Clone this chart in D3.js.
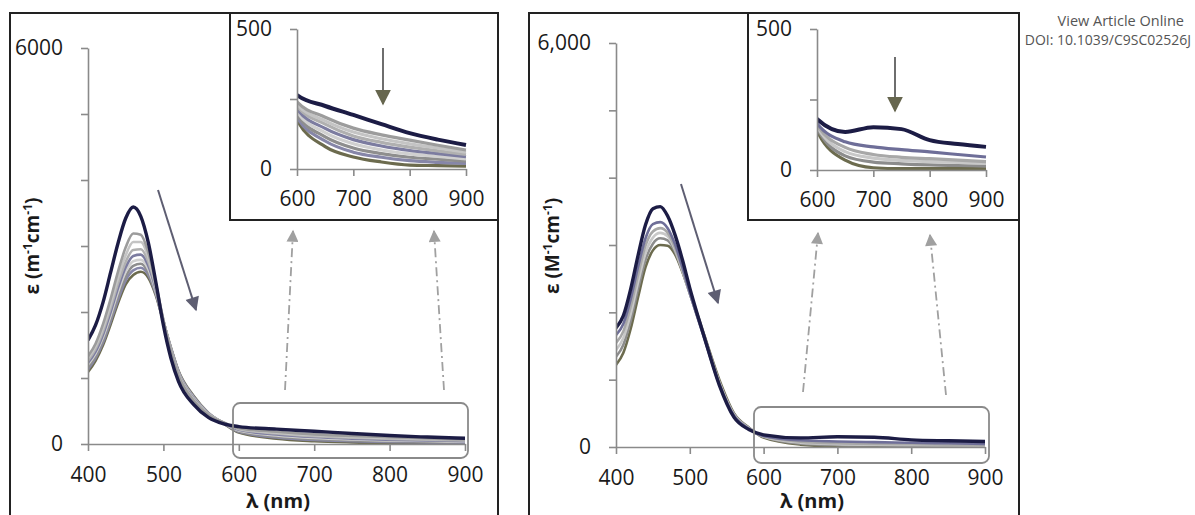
<!DOCTYPE html>
<html>
<head>
<meta charset="utf-8">
<script src="https://cdn.jsdelivr.net/npm/d3@7"></script>
<style>
  html, body { margin: 0; padding: 0; background: #fff; }
  svg { display: block; }
  text { font-family: "Open Sans", "Liberation Sans", sans-serif; fill: #1a1a1a; }
</style>
</head>
<body>
<svg id="chart" width="1195" height="515"></svg>
<script>
// ---------------- DATA ----------------
const wavelengths = [400,410,420,430,440,450,460,470,480,490,500,510,520,540,560,580,600,650,700,750,800,850,900];

// Left panel spectra (ε, m-1 cm-1)
const left1 = [1575,1800,2150,2600,3050,3420,3590,3450,3050,2450,1800,1300,950,600,400,305,264,225,193,160,128,105,86];
const left2 = [1330,1520,1820,2200,2620,2980,3190,3170,2900,2430,1880,1400,1040,660,440,325,240,185,146,122,103,85,68];
const left3 = [1300,1480,1760,2120,2520,2860,3060,3060,2830,2400,1880,1410,1050,670,445,325,232,172,132,108,90,75,60];
const left4 = [1260,1440,1710,2060,2440,2760,2940,2950,2760,2370,1870,1420,1060,680,450,322,225,160,118,95,78,65,52];
const left5 = [1230,1400,1660,2000,2370,2680,2850,2870,2700,2340,1870,1430,1070,690,455,320,215,145,105,82,66,55,44];
const left6 = [1200,1370,1620,1950,2310,2610,2770,2790,2650,2310,1860,1440,1080,700,460,318,205,130,90,68,54,45,36];
const left7 = [1160,1330,1580,1900,2250,2540,2700,2730,2600,2290,1860,1450,1090,710,462,315,195,115,75,55,42,35,28];
const left8 = [1130,1300,1540,1860,2190,2480,2630,2670,2560,2270,1850,1450,1100,720,465,312,185,100,60,42,30,24,20];
const left9 = [1090,1260,1500,1810,2140,2420,2560,2610,2520,2250,1850,1460,1110,730,468,310,175,80,43,25,14,12,10];
const leftSeries = [left9, left8, left7, left6, left5, left4, left3, left2, left1];
const leftColors = ["#6c6b4e","#8686a8","#8e8e8e","#d0d0d0","#7c7ca0","#b0b0b0","#c4c4c4","#9c9c9c","#1c1c45"];

// Right panel spectra (ε, M-1 cm-1)
const right1 = [1770,1950,2350,2850,3300,3540,3570,3430,3150,2780,2360,1980,1620,920,440,260,181,135,152,145,106,92,82];
const right2 = [1660,1830,2200,2680,3100,3310,3340,3250,3010,2670,2290,1940,1600,930,460,270,165,100,82,72,64,55,46];
const right3 = [1545,1720,2090,2560,2990,3200,3250,3180,2960,2640,2280,1940,1610,945,470,275,160,80,55,45,40,35,30];
const right4 = [1440,1620,1980,2450,2880,3110,3180,3130,2930,2620,2280,1950,1620,960,480,280,155,65,42,34,30,27,24];
const right5 = [1340,1520,1880,2350,2780,3020,3100,3070,2900,2610,2280,1960,1630,975,490,285,150,50,28,22,18,16,14];
const right6 = [1220,1400,1760,2230,2670,2920,3000,2990,2860,2600,2290,1980,1650,1000,500,290,140,35,8,5,5,5,5];
const rightSeries = [right6, right5, right4, right3, right2, right1];
const rightColors = ["#6c6b4e","#8c8c8c","#c8c8c8","#a8a8a8","#6e6e98","#1c1c45"];

// Tick labels
const mainXTicks = [400,500,600,700,800,900];
const mainYTicks = [0,1000,2000,3000,4000,5000,6000];
const insetXTicks = [600,700,800,900];
const insetYTicks = [0,250,500];
const leftYLabels = {0:"0", 6000:"6000"};
const rightYLabels = {0:"0", 6000:"6,000"};
const insetYLabels = {0:"0", 500:"500"};

// ---------------- DRAW ----------------
const svg = d3.select("#chart");
const defs = svg.append("defs");

function marker(id, color, w, h) {
  defs.append("marker").attr("id", id)
    .attr("viewBox", "0 0 10 10").attr("refX", 9).attr("refY", 5)
    .attr("markerWidth", w).attr("markerHeight", h).attr("markerUnits", "userSpaceOnUse")
    .attr("orient", "auto")
    .append("path").attr("d", "M0,0 L10,5 L0,10 Z").attr("fill", color);
}
marker("arrMain", "#5e5e72", 16, 14);
marker("arrInset", "#66664e", 16, 16);
marker("arrDash", "#a0a0a0", 13, 12);

let clipN = 0;
function plot(g, cfg) {
  const x = d3.scaleLinear().domain(cfg.xDomain).range(cfg.xRange);
  const y = d3.scaleLinear().domain(cfg.yDomain).range(cfg.yRange);
  const id = "clip" + (clipN++);
  defs.append("clipPath").attr("id", id).append("rect")
    .attr("x", cfg.xRange[0]).attr("y", cfg.yRange[1] - 2)
    .attr("width", cfg.xRange[1] - cfg.xRange[0] + 2)
    .attr("height", cfg.yRange[0] - cfg.yRange[1] + 2);

  const line = d3.line()
    .x((d, i) => x(wavelengths[i]))
    .y(d => y(d))
    .curve(d3.curveMonotoneX);

  const lg = g.append("g").attr("clip-path", `url(#${id})`);
  cfg.series.forEach((s, i) => {
    lg.append("path").attr("d", line(s))
      .attr("fill", "none")
      .attr("stroke", cfg.colors[i])
      .attr("stroke-width", i === cfg.series.length - 1 ? cfg.sw + 0.8 : cfg.sw)
      .attr("stroke-linejoin", "round");
  });

  const ya = d3.axisLeft(y).tickValues(cfg.yTicks).tickSizeInner(7).tickSizeOuter(0)
    .tickPadding(cfg.yPad).tickFormat(d => cfg.yLabels[d] || "");
  const xa = d3.axisBottom(x).tickValues(cfg.xTicks).tickSizeInner(7).tickSizeOuter(0)
    .tickPadding(cfg.xPad).tickFormat(d => String(d));

  const gy = g.append("g").attr("transform", `translate(${cfg.xRange[0]},0)`).call(ya);
  const gx = g.append("g").attr("transform", `translate(0,${cfg.yRange[0]})`).call(xa);
  [gx, gy].forEach(a => {
    a.select(".domain").attr("stroke", "#8a8a8a").attr("stroke-width", 1.6);
    a.selectAll(".tick line").attr("stroke", "#8a8a8a").attr("stroke-width", 1.6);
    a.selectAll(".tick text").attr("font-size", 21).attr("fill", "#1a1a1a")
      .attr("font-family", '"Open Sans", sans-serif');
  });
  return {x, y};
}

function arrow(g, x1, y1, x2, y2, color, w, m, dash) {
  const p = g.append("line").attr("x1", x1).attr("y1", y1).attr("x2", x2).attr("y2", y2)
    .attr("stroke", color).attr("stroke-width", w).attr("marker-end", `url(#${m})`);
  if (dash) p.attr("stroke-dasharray", dash);
}

function panel(cfg) {
  const g = svg.append("g");
  // outer frame
  g.append("rect").attr("x", cfg.frame[0]).attr("y", cfg.frame[1])
    .attr("width", cfg.frame[2]).attr("height", 600)
    .attr("fill", "none").attr("stroke", "#222").attr("stroke-width", 2);

  plot(g, {
    xDomain: [400, 900], yDomain: [0, 6000],
    xRange: cfg.mainX, yRange: cfg.mainY,
    series: cfg.series, colors: cfg.colors, sw: 2.6,
    xTicks: mainXTicks, yTicks: mainYTicks, yLabels: cfg.yLabels,
    xPad: 16, yPad: 18
  });

  // y title
  const yt = g.append("text")
    .attr("transform", `translate(${cfg.yTitle[0]},${cfg.yTitle[1]}) rotate(-90)`)
    .attr("text-anchor", "middle").attr("font-size", 19).attr("font-weight", "bold");
  yt.append("tspan").text("ε (" + cfg.unit);
  yt.append("tspan").attr("font-size", 12).attr("dy", -7).text("-1");
  yt.append("tspan").attr("dy", 7).text("cm");
  yt.append("tspan").attr("font-size", 12).attr("dy", -7).text("-1");
  yt.append("tspan").attr("dy", 7).text(")");

  // x title
  g.append("text").attr("x", cfg.xTitle[0]).attr("y", cfg.xTitle[1])
    .attr("text-anchor", "middle").attr("font-size", 20).attr("font-weight", "bold")
    .text("λ (nm)");

  // main arrow
  arrow(g, ...cfg.mainArrow, "#5e5e72", 2, "arrMain");

  // rounded zoom rectangle
  g.append("rect").attr("x", cfg.zoomBox[0]).attr("y", cfg.zoomBox[1])
    .attr("width", cfg.zoomBox[2]).attr("height", cfg.zoomBox[3])
    .attr("rx", 7).attr("fill", "none").attr("stroke", "#8a8a8a").attr("stroke-width", 1.8);

  // dash-dot arrows
  cfg.dashArrows.forEach(a => arrow(g, ...a, "#a0a0a0", 1.8, "arrDash", "9,4,2,4"));

  // inset
  g.append("rect").attr("x", cfg.inset[0]).attr("y", cfg.inset[1])
    .attr("width", cfg.inset[2]).attr("height", cfg.inset[3])
    .attr("fill", "#fff").attr("stroke", "#222").attr("stroke-width", 2);
  plot(g, {
    xDomain: [600, 900], yDomain: [0, 500],
    xRange: cfg.insetX, yRange: cfg.insetY,
    series: cfg.series, colors: cfg.colors, sw: 3.2,
    xTicks: insetXTicks, yTicks: insetYTicks, yLabels: insetYLabels,
    xPad: 15, yPad: 18
  });
  arrow(g, ...cfg.insetArrow, "#6e6e6e", 2, "arrInset");
}

panel({
  frame: [10, 13, 488],
  mainX: [88, 465], mainY: [444, 48],
  series: leftSeries, colors: leftColors, yLabels: leftYLabels, unit: "m",
  yTitle: [39, 246], xTitle: [278, 508],
  mainArrow: [158, 190, 196, 310],
  zoomBox: [233, 403, 235, 55],
  dashArrows: [[285, 390, 293, 231], [444, 390, 434, 231]],
  inset: [230, 13, 268, 207],
  insetX: [297, 466], insetY: [169, 29],
  insetArrow: [383, 48, 383, 104]
});

panel({
  frame: [529, 13, 490],
  mainX: [616, 985], mainY: [447, 43],
  series: rightSeries, colors: rightColors, yLabels: rightYLabels, unit: "M",
  yTitle: [559, 246], xTitle: [812, 508],
  mainArrow: [681, 184, 718, 303],
  zoomBox: [754, 407, 235, 56],
  dashArrows: [[803, 392, 818, 233], [946, 395, 930, 235]],
  inset: [748, 13, 271, 207],
  insetX: [817, 986], insetY: [170, 29],
  insetArrow: [895, 57, 895, 111]
});

// header text
svg.append("text").attr("x", 1184).attr("y", 26).attr("text-anchor", "end")
  .attr("font-size", 14.5).style("fill", "#555")
  .text("View Article Online");
svg.append("text").attr("x", 1191).attr("y", 45).attr("text-anchor", "end")
  .attr("font-size", 14).style("fill", "#555")
  .text("DOI: 10.1039/C9SC02526J");
</script>
</body>
</html>
